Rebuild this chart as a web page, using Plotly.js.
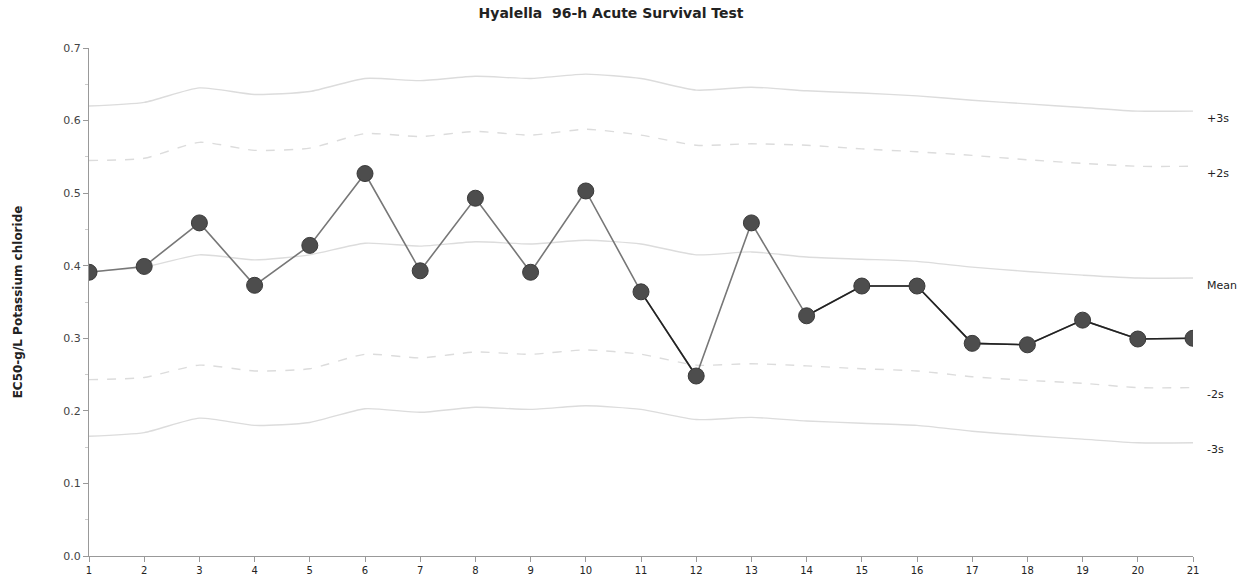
<!DOCTYPE html>
<html>
<head>
<meta charset="utf-8">
<script src="https://cdn.plot.ly/plotly-3.0.1.min.js"></script>
<style>html,body{margin:0;padding:0;background:#fff;}#chart{width:1242px;height:584px;}</style>
</head>
<body>
<div id="chart"></div>
<script>
const tests = [1,2,3,4,5,6,7,8,9,10,11,12,13,14,15,16,17,18,19,20,21];
const ec50 = [0.391,0.399,0.459,0.373,0.428,0.527,0.393,0.493,0.391,0.503,0.364,0.248,0.459,0.331,0.372,0.372,0.293,0.291,0.325,0.299,0.300];
const meanLine = [0.392,0.398,0.415,0.408,0.415,0.431,0.427,0.433,0.430,0.435,0.430,0.415,0.419,0.412,0.409,0.406,0.398,0.392,0.387,0.383,0.383];
const plus3s = [0.620,0.625,0.645,0.636,0.640,0.658,0.655,0.661,0.658,0.664,0.658,0.642,0.646,0.641,0.638,0.634,0.628,0.623,0.618,0.613,0.613];
const plus2s = [0.545,0.548,0.570,0.559,0.562,0.582,0.578,0.585,0.580,0.588,0.580,0.566,0.568,0.566,0.561,0.557,0.552,0.546,0.541,0.537,0.537];
const minus2s = [0.243,0.246,0.263,0.255,0.258,0.278,0.273,0.281,0.278,0.284,0.278,0.263,0.265,0.262,0.258,0.255,0.247,0.242,0.238,0.232,0.232];
const minus3s = [0.165,0.170,0.190,0.180,0.184,0.203,0.198,0.205,0.202,0.207,0.202,0.188,0.191,0.186,0.183,0.180,0.172,0.166,0.161,0.156,0.156];
const darkSegments = [[11,12],[14,21]];
const limitLabels = ["+3s","+2s","Mean","-2s","-3s"];

const limitColor = '#dcdcdc';
function limTrace(y, dash){
  return {x: tests, y: y, mode:'lines', type:'scatter', hoverinfo:'skip',
    line:{color:limitColor, width:1.4, dash:dash, shape:'spline', smoothing:0.6}};
}
const traces = [
  limTrace(plus3s,'solid'), limTrace(plus2s,'dash'), limTrace(meanLine,'solid'),
  limTrace(minus2s,'dash'), limTrace(minus3s,'solid'),
  {x: tests, y: ec50, mode:'lines', type:'scatter', line:{color:'#777777', width:1.6}}
];
darkSegments.forEach(function(seg){
  const xs = tests.filter(function(t){return t>=seg[0] && t<=seg[1];});
  traces.push({x: xs, y: xs.map(function(t){return ec50[t-1];}), mode:'lines', type:'scatter',
    line:{color:'#222222', width:1.6}});
});
traces.push({x: tests, y: ec50, mode:'markers', type:'scatter',
  marker:{size:16, color:'#4d4d4d', line:{color:'#3a3a3a', width:1}}});

const series = [plus3s, plus2s, meanLine, minus2s, minus3s];
const annotations = limitLabels.map(function(lbl, i){
  const s = series[i];
  return {x: tests[tests.length-1], y: s[s.length-1], xref:'x', yref:'y', text: lbl,
    showarrow:false, xanchor:'left', yanchor:'middle', xshift:12, yshift:-7,
    font:{family:'DejaVu Sans', size:11, color:'#222'}};
});

const layout = {
  width:1242, height:584,
  margin:{l:89, r:49, t:48, b:28},
  paper_bgcolor:'#fff', plot_bgcolor:'#fff',
  showlegend:false,
  title:{text:'<b>Hyalella  96-h Acute Survival Test</b>', x:0.492, xanchor:'center', y:0.978, yanchor:'middle',
    font:{family:'DejaVu Sans', size:14, color:'#222'}},
  font:{family:'DejaVu Sans', size:11, color:'#333'},
  xaxis:{range:[1,21], tickvals:tests, ticktext:tests.map(String), ticks:'outside', ticklen:5, tickcolor:'#999',
    showline:true, linecolor:'#999', linewidth:1, showgrid:false, zeroline:false,
    tickfont:{family:'DejaVu Sans', size:10, color:'#222'}},
  yaxis:{range:[0,0.7], dtick:0.1, tickformat:'.1f', ticks:'outside', ticklen:5, tickcolor:'#999',
    showline:true, linecolor:'#999', linewidth:1, showgrid:false, zeroline:false,
    minor:{dtick:0.05, ticks:'outside', ticklen:3, tickcolor:'#ccc'},
    tickfont:{family:'DejaVu Sans', size:11, color:'#444'},
    title:{text:'<b>EC50-g/L Potassium chloride</b>', standoff:38, font:{family:'DejaVu Sans', size:12, color:'#222'}}},
  annotations: annotations
};
Plotly.newPlot('chart', traces, layout, {displayModeBar:false, staticPlot:true});
</script>
</body>
</html>
